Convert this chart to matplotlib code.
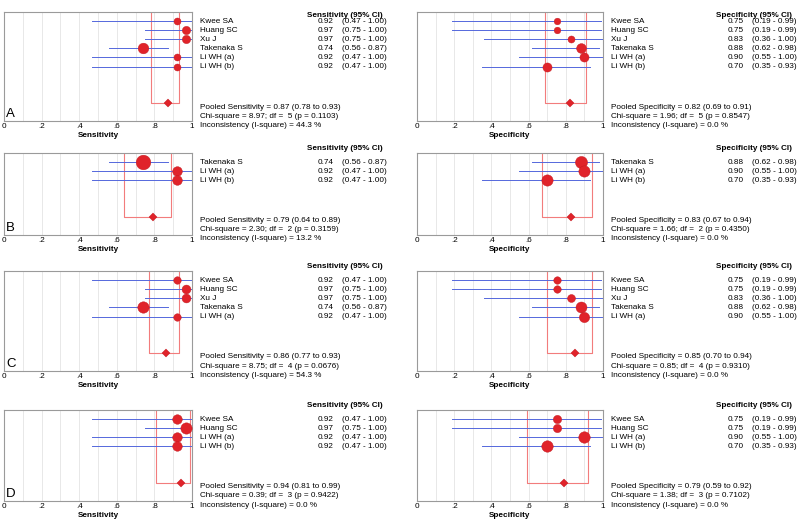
import numpy as np
import matplotlib
matplotlib.use("Agg")
import matplotlib.pyplot as plt

plt.rcParams['font.family'] = ['Liberation Sans', 'DejaVu Sans']

# per-study estimates
studies = ["Kwee SA", "Huang SC", "Xu J", "Takenaka S", "Li WH (a)", "Li WH (b)"]
sens = [0.92, 0.97, 0.97, 0.74, 0.92, 0.92]
sens_lo = [0.47, 0.75, 0.75, 0.56, 0.47, 0.47]
sens_hi = [1.00, 1.00, 1.00, 0.87, 1.00, 1.00]
sens_w = [5.0, 7.0, 7.0, 11.5, 5.0, 5.0]
spec = [0.75, 0.75, 0.83, 0.88, 0.90, 0.70]
spec_lo = [0.19, 0.19, 0.36, 0.62, 0.55, 0.35]
spec_hi = [0.99, 0.99, 1.00, 0.98, 1.00, 0.93]
spec_w = [5.3, 5.3, 6.0, 11.5, 10.0, 10.0]

# panels (subsets of studies)
panel_letters = ["A", "B", "C", "D"]
panel_studies = [
    ["Kwee SA", "Huang SC", "Xu J", "Takenaka S", "Li WH (a)", "Li WH (b)"],
    ["Takenaka S", "Li WH (a)", "Li WH (b)"],
    ["Kwee SA", "Huang SC", "Xu J", "Takenaka S", "Li WH (a)"],
    ["Kwee SA", "Huang SC", "Li WH (a)", "Li WH (b)"],
]

# pooled results per panel
sens_pool = [0.87, 0.79, 0.86, 0.94]
sens_pool_lo = [0.78, 0.64, 0.77, 0.81]
sens_pool_hi = [0.93, 0.89, 0.93, 0.99]
sens_chi = [8.97, 2.30, 8.75, 0.39]
sens_df = [5, 2, 4, 3]
sens_p = [0.1103, 0.3159, 0.0676, 0.9422]
sens_i2 = [44.3, 13.2, 54.3, 0.0]

spec_pool = [0.82, 0.83, 0.85, 0.79]
spec_pool_lo = [0.69, 0.67, 0.70, 0.59]
spec_pool_hi = [0.91, 0.94, 0.94, 0.92]
spec_chi = [1.96, 1.66, 0.85, 1.38]
spec_df = [5, 2, 4, 3]
spec_p = [0.8547, 0.4350, 0.9310, 0.7102]
spec_i2 = [0.0, 0.0, 0.0, 0.0]

RED = '#e0232a'
BLUE = '#5468dc'
BOX = '#f27c7c'
FS = 5.9

W, H = 800, 527
row_top = [12, 153, 271, 410]
unit = 9.1
header_dy = [0.35, -0.45, -0.45, -0.45]


def draw_forest(ax, k, name, est, lo, hi, wt, pool, plo, phi, chi, df, p, i2, letter=True):
    sub = panel_studies[k]
    idx = [studies.index(s) for s in sub]
    n = len(sub)
    ypool = n + 4
    wsum = sum(wt[i] for i in idx)

    ax.set_xlim(0, 1)
    ax.set_ylim(n + 6, 0)
    ax.set_xticks(np.linspace(0, 1, 6))
    ax.set_xticklabels(["0", ".2", ".4", ".6", ".8", "1"])
    ax.set_xticks(np.arange(0.1, 1.0, 0.1), minor=True)
    ax.set_yticks([])
    ax.tick_params(axis='x', which='both', length=0, pad=1.5, labelsize=FS)
    ax.grid(axis='x', which='both', color='#e4e4e4', lw=0.6)
    ax.set_axisbelow(True)
    for sp in ax.spines.values():
        sp.set_color('#9a9a9a')
        sp.set_linewidth(0.8)
    ax.set_xlabel(name, fontsize=FS, fontweight='bold', labelpad=1.5)

    # pooled CI box
    ax.plot([plo[k], plo[k], phi[k], phi[k]], [0, ypool, ypool, 0], color=BOX, lw=0.8)
    ax.plot(pool[k], ypool, marker='D', ms=4.4, color=RED, mec='#c01a20', mew=0.3)

    for j, i in enumerate(idx):
        y = j + 1
        ax.plot([lo[i], hi[i]], [y, y], color=BLUE, lw=0.7)
        d_px = 20.0 * np.sqrt(wt[i] / wsum)
        ax.plot(est[i], y, marker='o', ms=d_px * 0.72, color=RED, mec='#c01a20',
                mew=0.3, clip_on=False, zorder=3)
        ax.text(1.045, y, sub[j], fontsize=FS, va='center', ha='left', clip_on=False)
        ax.text(1.755, y, "%.2f" % est[i], fontsize=FS, va='center', ha='right')
        ax.text(1.80, y, "(%.2f - %.2f)" % (lo[i], hi[i]), fontsize=FS, va='center', ha='left')

    ax.text(2.015, header_dy[k], "%s (95%% CI)" % name, fontsize=FS, fontweight='bold',
            va='center', ha='right')

    lines = ["Pooled %s = %.2f (%.2f to %.2f)" % (name, pool[k], plo[k], phi[k]),
             "Chi-square = %.2f; df = %2d (p = %.4f)" % (chi[k], df[k], p[k]),
             "Inconsistency (I-square) = %.1f %%" % i2[k]]
    for m, s in enumerate(lines):
        ax.text(1.045, ypool + 0.45 + m, s, fontsize=FS, va='center', ha='left')

    if letter:
        ax.text(0.012, n + 5.85, panel_letters[k], fontsize=9.5, va='bottom', ha='left')


fig = plt.figure(figsize=(8, 5.27), dpi=100)
for k in range(4):
    n = len(panel_studies[k])
    h = (n + 6) * unit
    b = 1 - (row_top[k] + h) / H
    ax1 = fig.add_axes([4 / W, b, 188 / W, h / H])
    draw_forest(ax1, k, "Sensitivity", sens, sens_lo, sens_hi, sens_w,
                sens_pool, sens_pool_lo, sens_pool_hi, sens_chi, sens_df, sens_p, sens_i2)
    ax2 = fig.add_axes([417 / W, b, 186 / W, h / H])
    draw_forest(ax2, k, "Specificity", spec, spec_lo, spec_hi, spec_w,
                spec_pool, spec_pool_lo, spec_pool_hi, spec_chi, spec_df, spec_p, spec_i2,
                letter=False)

fig.savefig("out.png", dpi=100)
